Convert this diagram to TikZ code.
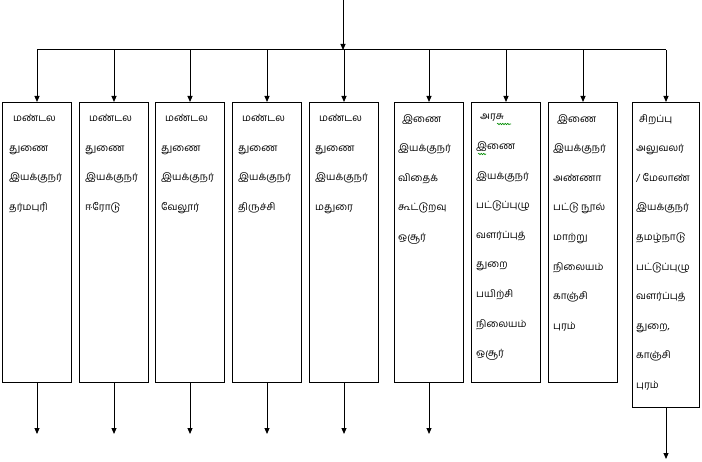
\documentclass[tikz,border=0pt]{standalone}
\usepackage{fontspec}
\newfontfamily\tamilfont[Script=Tamil]{Hind Madurai}
\usetikzlibrary{arrows.meta,decorations.pathmorphing}
\begin{document}
\begin{tikzpicture}[x=1bp,y=-1bp,
  line/.style={line width=1bp},
  arr/.style={line width=1bp,-{Triangle[width=5bp,length=6bp]}},
  box/.style={draw,line width=1bp,inner sep=0pt,anchor=north west,minimum width=69bp},
  txt/.style={inner sep=0pt,anchor=north west,align=left,
    font=\tamilfont\fontsize{10bp}{29.6bp}\selectfont},
  spell/.style={draw=green!55!black,line width=0.6bp,decorate,
    decoration={snake,amplitude=0.7bp,segment length=2.5bp}}]
\useasboundingbox (0,0) rectangle (702,462);
% boxes
\node[box,minimum height=280bp] (b1) at (2,102) {};
\node[box,minimum height=280bp] (b2) at (79,102) {};
\node[box,minimum height=280bp] (b3) at (155,102) {};
\node[box,minimum height=280bp] (b4) at (232,102) {};
\node[box,minimum height=280bp] (b5) at (309,102) {};
\node[box,minimum height=280bp] (b6) at (394,102) {};
\node[box,minimum height=280bp] (b7) at (471,102) {};
\node[box,minimum height=280bp] (b8) at (548,102) {};
\node[box,minimum height=305bp,minimum width=67bp] (b9) at (632,102) {};
% texts
\node[txt] (t1) at ([xshift=7bp,yshift=-12bp]b1.north west) {\hspace*{4bp}மண்டல\\துணை\\இயக்குநர்\\தர்மபுரி};
\node[txt] (t2) at ([xshift=6bp,yshift=-12bp]b2.north west) {\hspace*{4bp}மண்டல\\துணை\\இயக்குநர்\\ஈரோடு};
\node[txt] (t3) at ([xshift=6bp,yshift=-12bp]b3.north west) {\hspace*{4bp}மண்டல\\துணை\\இயக்குநர்\\வேலூர்};
\node[txt] (t4) at ([xshift=6bp,yshift=-12bp]b4.north west) {\hspace*{4bp}மண்டல\\துணை\\இயக்குநர்\\திருச்சி};
\node[txt] (t5) at ([xshift=6bp,yshift=-12bp]b5.north west) {\hspace*{4bp}மண்டல\\துணை\\இயக்குநர்\\மதுரை};
\node[txt] (t6) at ([xshift=4bp,yshift=-12bp]b6.north west) {\hspace*{4bp}இணை\\இயக்குநர்\\விதைக்\\கூட்டுறவு\\ஒசூர்};
\node[txt] (t7) at ([xshift=5bp,yshift=-12bp]b7.north west) {\hspace*{4bp}அரசு\\இணை\\இயக்குநர்\\பட்டுப்புழு\\வளர்ப்புத்\\துறை\\பயிற்சி\\நிலையம்\\ஒசூர்};
\node[txt] (t8) at ([xshift=5bp,yshift=-12bp]b8.north west) {\hspace*{4bp}இணை\\இயக்குநர்\\அண்ணா\\பட்டு நூல்\\மாற்று\\நிலையம்\\காஞ்சி\\புரம்};
\node[txt] (t9) at ([xshift=4bp,yshift=-12bp]b9.north west) {\hspace*{3bp}சிறப்பு\\அலுவலர்\\/ மேலாண்\\இயக்குநர்\\தமழ்நாடு\\பட்டுப்புழு\\வளர்ப்புத்\\துறை,\\காஞ்சி\\புரம்};
% spelling marks
\draw[spell] (497,124) -- (511,124);
\draw[spell] (478,154) -- (486,154);
% top connectors
\coordinate (top) at (343,0);
\coordinate (bus) at (343,50);
\coordinate (busL) at (b1.north |- bus);
\coordinate (busR) at (b9.north |- bus);
\draw[arr] (top) -- (bus);
\draw[line] (busL) -- (busR);
\foreach \i in {1,...,9}{
  \draw[arr] (b\i.north |- bus) -- (b\i.north);
}
% bottom connectors
\foreach \i in {1,...,6}{
  \coordinate (e\i) at ([yshift=-51bp]b\i.south);
  \draw[arr] (b\i.south) -- (e\i);
}
\coordinate (e9) at ([yshift=-51bp]b9.south);
\draw[arr] (b9.south) -- (e9);
\end{tikzpicture}
\end{document}
